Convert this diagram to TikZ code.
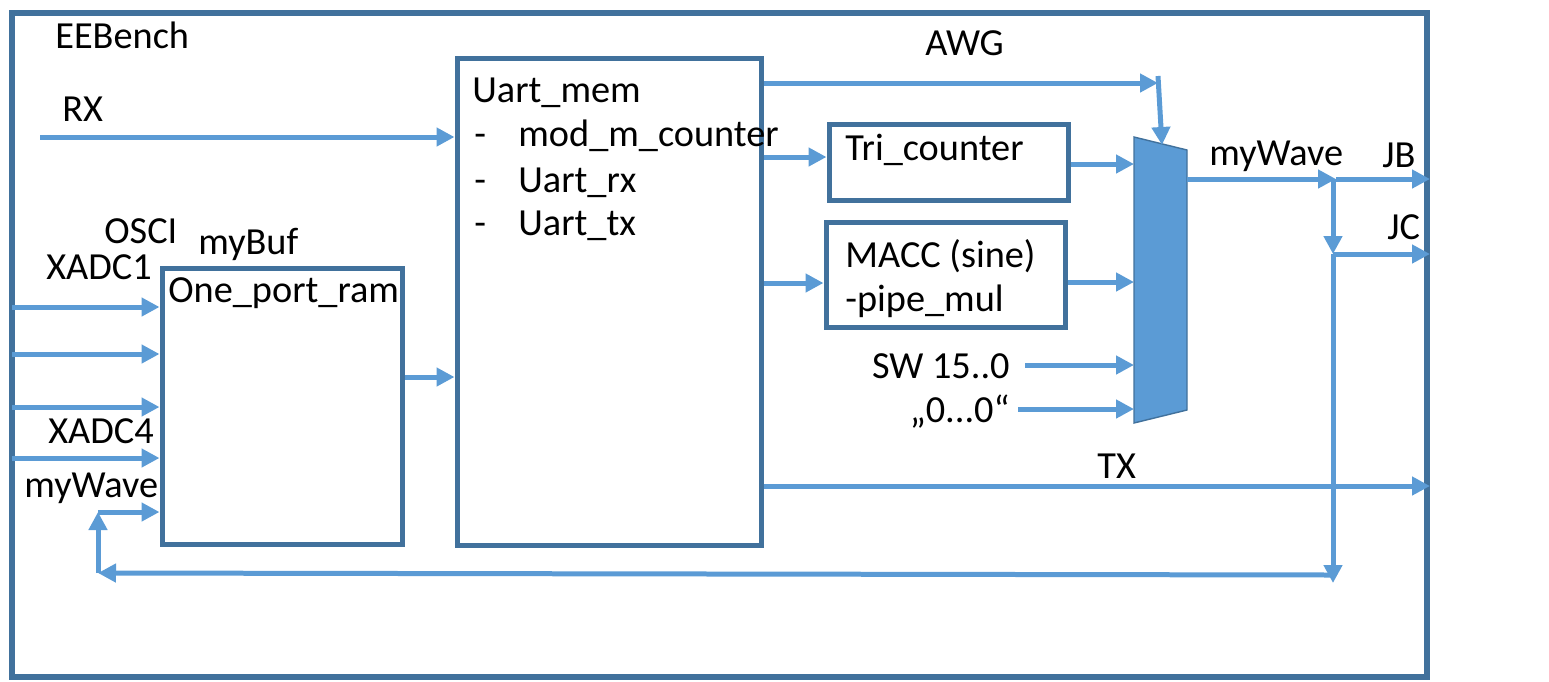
\documentclass[tikz,border=0pt]{standalone}
\usepackage{fontspec}
\setmainfont{Carlito}
\usetikzlibrary{arrows.meta,fit}
\definecolor{frameblue}{HTML}{41719C}
\definecolor{arrowblue}{HTML}{5B9BD5}
\begin{document}
\begin{tikzpicture}[x=0.02cm,y=-0.02cm,
  font=\fontsize{21.8}{26}\selectfont,
  box/.style={draw=frameblue, line width=0.1cm, inner sep=0pt},
  wire/.style={draw=arrowblue, line width=0.1cm, -{Triangle[length=0.36cm,width=0.36cm]}},
  lbl/.style={anchor=base west, inner sep=0pt},
  lblr/.style={anchor=base east, inner sep=0pt}]
\useasboundingbox (0,0) rectangle (1549,681);
% frames
\node[box, line width=0.12cm, fit={(12,13) (1427,677)}] (bench) {};
\node[box, fit={(457,58) (761,545)}] (uart) {};
\node[box, fit={(162,268) (402,544)}] (ram) {};
\node[box, fit={(829,124) (1068,200)}] (tri) {};
\node[box, fit={(826,222) (1065,327)}] (macc) {};
% mux
\coordinate (mtl) at (1134,137);
\coordinate (mtr) at (1187,150);
\coordinate (mbr) at (1187,410);
\coordinate (mbl) at (1134,423);
\filldraw[fill=arrowblue, draw=frameblue, line width=0.8pt] (mtl) -- (mtr) -- (mbr) -- (mbl) -- cycle;
% labels
\node[lbl] (eeb) at (55,48) {EEBench};
\node[lbl] (rxl) at (62,121) {RX};
\node[lbl] (awgl) at (925,55) {AWG};
\node[lbl] (um) at (472,102) {Uart\_mem};
\node[lbl] (d1) at (474,146) {-};
\node[lbl] (modm) at (518,146) {mod\_m\_counter};
\node[lbl] (d2) at (474,192) {-};
\node[lbl] (urx) at (518,192) {Uart\_rx};
\node[lbl] (d3) at (474,235) {-};
\node[lbl] (utx) at (518,235) {Uart\_tx};
\node[lbl] (tril) at (845,160) {Tri\_counter};
\node[lbl] (maccl) at (845,267) {MACC (sine)};
\node[lbl] (pipel) at (845,311) {-pipe\_mul};
\node[lblr] (sw) at (1010,378) {SW 15..0};
\node[lblr] (zero) at (1010,422) {„0...0“};
\node[lbl] (txl) at (1097,478) {TX};
\node[lbl] (mwr) at (1209,165) {myWave};
\node[lbl] (jb) at (1382,167) {JB};
\node[lbl] (jc) at (1387,239) {JC};
\node[lbl] (osci) at (104,243) {OSCI};
\node[lbl] (mybuf) at (198,254) {myBuf};
\node[lbl] (xadc1) at (46,279) {XADC1};
\node[lbl] (opr) at (168,302) {One\_port\_ram};
\node[lbl] (xadc4) at (48,443) {XADC4};
\node[lbl] (mwl) at (24,497) {myWave};
% connectors
\coordinate (rxs) at (40,137);
\draw[wire] (rxs) -- (uart.west |- rxs);
\foreach \n/\yy in {a/307,b/354,c/407,d/458}{
  \coordinate (in\n) at (12,\yy);
  \draw[wire] (in\n) -- (ram.west |- in\n);
}
\coordinate (rm) at (402,377);
\draw[wire] (ram.east |- rm) -- (uart.west |- rm);
\coordinate (awgc) at (1158,83);
\coordinate (awgtop) at (1158,76);
\coordinate (mtop) at (1162,145);
\draw[wire] (uart.east |- awgc) -- (awgc);
\draw[wire] (awgtop) -- (mtop);
\coordinate (ut) at (761,157);
\draw[wire] (uart.east |- ut) -- (tri.west |- ut);
\coordinate (um2) at (761,283);
\draw[wire] (uart.east |- um2) -- (macc.west |- um2);
\coordinate (tm) at (1068,164);
\draw[wire] (tri.east |- tm) -- (mtl |- tm);
\coordinate (mm) at (1065,282);
\draw[wire] (macc.east |- mm) -- (mtl |- mm);
\coordinate (sws) at (1025,365);
\draw[wire] (sws) -- (mtl |- sws);
\coordinate (zs) at (1018,409);
\draw[wire] (zs) -- (mtl |- zs);
\coordinate (mout) at (1187,179);
\coordinate (split) at (1336,179);
\draw[wire] (mout) -- (split);
\draw[wire] (split) -- (bench.east |- split);
\coordinate (vtop) at (1333,179);
\coordinate (jcs) at (1333,254);
\coordinate (vbot) at (1333,583);
\draw[wire] (vtop) -- (jcs);
\draw[wire] (jcs) -- (vbot);
\draw[wire] (jcs) -- (bench.east |- jcs);
\coordinate (tx) at (761,486);
\draw[wire] (uart.east |- tx) -- (bench.east |- tx);
\coordinate (fbr) at (1333,575);
\coordinate (fbl) at (98,573);
\coordinate (fbt) at (98,512);
\draw[wire] (fbr) -- (fbl);
\draw[wire] (fbl) -- (fbt);
\draw[wire] (fbt) -- (ram.west |- fbt);
\end{tikzpicture}
\end{document}
